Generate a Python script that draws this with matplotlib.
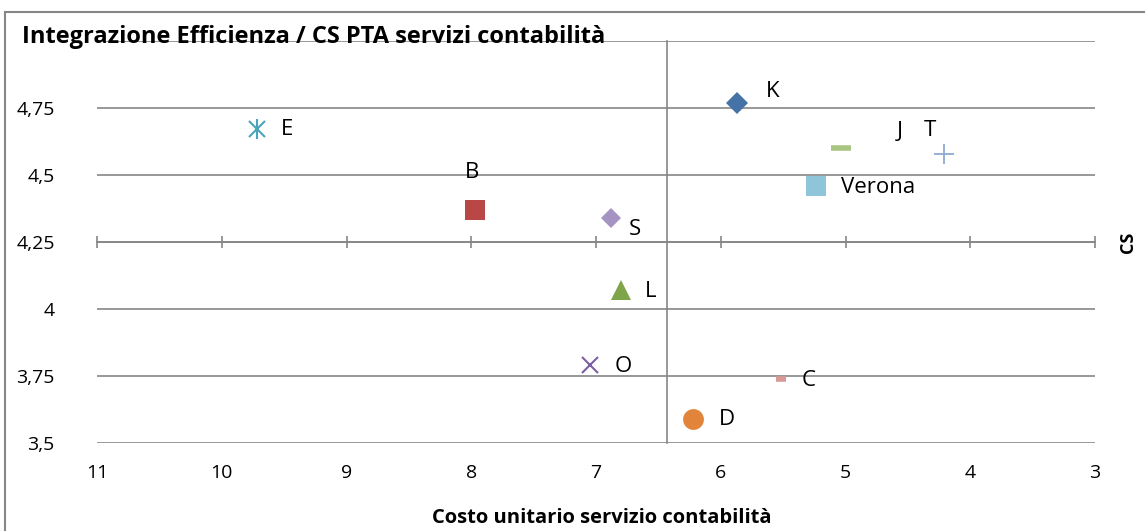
import matplotlib
matplotlib.use("Agg")
import matplotlib.pyplot as plt
from matplotlib.patches import Rectangle

plt.rcParams['font.family'] = ['Open Sans', 'DejaVu Sans']

# ---- data ----
names = ["K", "J", "T", "Verona", "E", "B", "S", "L", "O", "C", "D"]
costo = [5.87, 5.04, 4.21, 5.24, 9.72, 7.97, 6.88, 6.80, 7.05, 5.52, 6.22]
cs = [4.77, 4.60, 4.58, 4.46, 4.67, 4.37, 4.34, 4.07, 3.79, 3.74, 3.59]
x_ticks = [11, 10, 9, 8, 7, 6, 5, 4, 3]
y_ticks = [3.5, 3.75, 4.0, 4.25, 4.5, 4.75, 5.0]
y_tick_labels = ["3,5", "3,75", "4", "4,25", "4,5", "4,75", ""]
x_cross = 6.43
y_cross = 4.25
title = "Integrazione Efficienza / CS PTA servizi contabilità"
x_title = "Costo unitario servizio contabilità"
y_title = "CS"

# ---- styles (per series) ----
styles = {
    "K": dict(marker="D", ms=11, color="#4572A7", mew=0),
    "J": dict(marker="_", ms=14, color="#A8C682", mew=4),
    "T": dict(marker="+", ms=14, color="#8EAAD2", mew=1.3),
    "Verona": dict(marker="s", ms=14, color="#8EC5DA", mew=0),
    "E": dict(marker=(6, 2, 0), ms=14, color="#4AA4BB", mew=1.5),
    "B": dict(marker="s", ms=14, color="#B84745", mew=0),
    "S": dict(marker="D", ms=10.5, color="#A594C3", mew=0),
    "L": dict(marker="^", ms=14, color="#7FA44A", mew=0),
    "O": dict(marker="x", ms=12, color="#7B5FA2", mew=1.5),
    "C": dict(marker="_", ms=7, color="#DA9896", mew=4),
    "D": dict(marker="o", ms=15, color="#E2853A", mew=0),
}
# label offsets in pixels (dx, dy), ha
offsets = {
    "K": (36, 11, "center"), "J": (59, 17, "center"), "T": (-14, 23, "center"),
    "Verona": (25, -2, "left"), "E": (30, 0, "center"), "B": (-3, 37, "center"),
    "S": (24, -12, "center"), "L": (30, -1, "center"), "O": (33, -1, "center"),
    "C": (28, -2, "center"), "D": (34, -1, "center"),
}

fig = plt.figure(figsize=(11.45, 5.31), dpi=100)
ax = fig.add_axes([97 / 1145, 1 - 443 / 531, (1095 - 97) / 1145, (443 - 41) / 531])

grid_c = "#868686"
for i, n in enumerate(names):
    st = styles[n]
    if n == "E":
        ax.plot(costo[i], cs[i], marker="x", ms=11, color=st["color"], mew=1.5, ls="none", zorder=3)
        ax.plot(costo[i], cs[i], marker="|", ms=15, color=st["color"], mew=1.5, ls="none", zorder=3)
    else:
        ax.plot(costo[i], cs[i], marker=st["marker"], ms=st["ms"], color=st["color"],
                mew=st["mew"], ls="none", zorder=3)
    dx, dy, ha = offsets[n]
    ax.annotate(n, (costo[i], cs[i]), xytext=(dx, dy), textcoords="offset pixels",
                ha=ha, va="center", fontsize=16, color="black", zorder=4)

ax.set_xlim(11, 3)
ax.set_ylim(3.5, 5.0)
ax.set_xticks(x_ticks)
ax.set_xticklabels([str(t) for t in x_ticks])
ax.set_yticks(y_ticks)
ax.set_yticklabels(y_tick_labels)
ax.yaxis.grid(True, color=grid_c, lw=1.2)
ax.set_axisbelow(True)

for s in ["left", "bottom"]:
    ax.spines[s].set_visible(False)
ax.spines["top"].set_position(("data", y_cross))
ax.spines["top"].set_color(grid_c)
ax.spines["top"].set_linewidth(1.2)
ax.spines["right"].set_position(("data", x_cross))
ax.spines["right"].set_color(grid_c)
ax.spines["right"].set_linewidth(1.2)

ax.tick_params(axis="x", bottom=False, top=True, labelbottom=True, labeltop=False,
               direction="inout", length=8, width=1.2, color=grid_c, pad=11, labelsize=14)
ax.tick_params(axis="y", left=False, right=False, labelleft=True, labelright=False,
               pad=27, labelsize=14)
ax.patch.set_alpha(0)

fig.text(22 / 1145, 1 - 37 / 531, title, fontsize=17, fontweight="bold", ha="left", va="center")
fig.text(602 / 1145, 1 - 518 / 531, x_title, fontsize=14.5, fontweight="bold", ha="center", va="center")
fig.text(1128 / 1145, 1 - 242 / 531, y_title, fontsize=13, fontweight="bold", ha="center",
         va="center", rotation=90)

fig.patches.append(Rectangle((5 / 1145, -0.01), 1.1, 1 - 12 / 531 + 0.01, transform=fig.transFigure,
                             fill=False, edgecolor="#868686", lw=1.5))

fig.savefig("out.png", dpi=100)
